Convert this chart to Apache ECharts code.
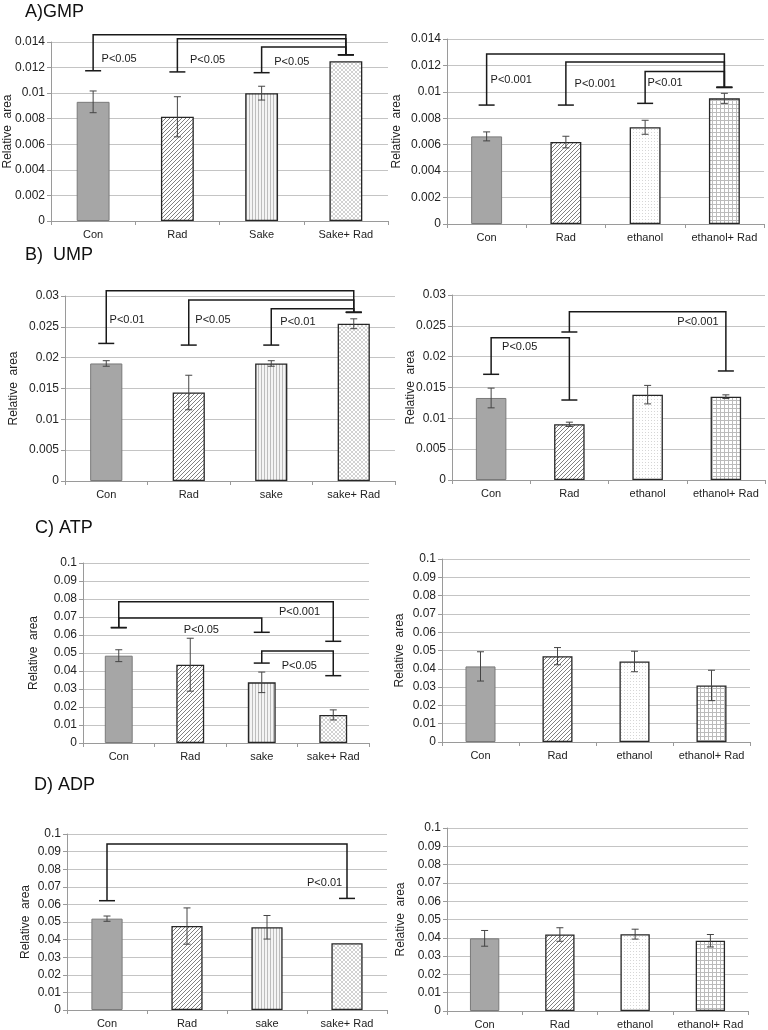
<!DOCTYPE html>
<html>
<head>
<meta charset="utf-8">
<title>Nucleotide relative area</title>
<script src="https://cdn.jsdelivr.net/npm/echarts@6/dist/echarts.min.js"></script>
<style>
  html, body { margin: 0; background: #fff; }
  #main { width: 768px; height: 1030px; }
</style>
</head>
<body>
<div id="main"></div>
<script>
// categories
var catsGmpSake = ['Con', 'Rad', 'Sake', 'Sake+ Rad'];
var catsSake = ['Con', 'Rad', 'sake', 'sake+ Rad'];
var catsEth = ['Con', 'Rad', 'ethanol', 'ethanol+ Rad'];

// values and error bars
var gmpSake = [0.00932, 0.00815, 0.0100, 0.01249];
var gmpSakeErr = [0.00085, 0.00157, 0.00054, 0];
var gmpEth = [0.00663, 0.0062, 0.00732, 0.00951];
var gmpEthErr = [0.00034, 0.00044, 0.00053, 0.00038];

var umpSake = [0.01906, 0.01435, 0.01906, 0.0255];
var umpSakeErr = [0.00045, 0.0028, 0.00045, 0.0008];
var umpEth = [0.0133, 0.00903, 0.01384, 0.01351];
var umpEthErr = [0.0016, 0.00035, 0.0015, 0.0003];

var atpSake = [0.0485, 0.0435, 0.0337, 0.0156];
var atpSakeErr = [0.0033, 0.0147, 0.0057, 0.0028];
var atpEth = [0.0413, 0.0469, 0.044, 0.0309];
var atpEthErr = [0.008, 0.0047, 0.0056, 0.0083];

var adpSake = [0.0519, 0.0477, 0.047, 0.0379];
var adpSakeErr = [0.0015, 0.0103, 0.0067, 0];
var adpEth = [0.0397, 0.0418, 0.042, 0.0384];
var adpEthErr = [0.0043, 0.0037, 0.0027, 0.0034];

// significance brackets: l/r = categories, lf/rf = foot values, top = bar height, p = label at (px, py)
var gmpSakeBr = [
  { l: 0, r: 3, lf: 0.01175, top: 0.01457, rf: 0.0130, p: 'P<0.05', px: 0.1, py: 0.0127 },
  { l: 1, r: 3, lf: 0.01166, top: 0.01426, rf: 0.0130, p: 'P<0.05', px: 1.15, py: 0.01262 },
  { l: 2, r: 3, lf: 0.0116, top: 0.01361, rf: 0.0130, p: 'P<0.05', px: 2.15, py: 0.01244 }
];
var gmpEthBr = [
  { l: 0, r: 3, lf: 0.009, top: 0.01286, rf: 0.01034, p: 'P<0.001', px: 0.05, py: 0.01092 },
  { l: 1, r: 3, lf: 0.009, top: 0.01226, rf: 0.01034, p: 'P<0.001', px: 1.11, py: 0.01062 },
  { l: 2, r: 3, lf: 0.00913, top: 0.01155, rf: 0.01034, p: 'P<0.01', px: 2.03, py: 0.01067 }
];
var umpSakeBr = [
  { l: 0, r: 3, lf: 0.02231, top: 0.03087, rf: 0.02735, p: 'P<0.01', px: 0.04, py: 0.0261 },
  { l: 1, r: 3, lf: 0.02204, top: 0.02935, rf: 0.02735, p: 'P<0.05', px: 1.08, py: 0.0261 },
  { l: 2, r: 3, lf: 0.02204, top: 0.02794, rf: 0.02735, p: 'P<0.01', px: 2.11, py: 0.0258 }
];
var umpEthBr = [
  { l: 0, r: 1, lf: 0.01714, top: 0.02308, rf: 0.01297, p: 'P<0.05', px: 0.14, py: 0.0215 },
  { l: 1, r: 3, lf: 0.024, top: 0.0273, rf: 0.01768, p: 'P<0.001', px: 2.38, py: 0.0257 }
];
var atpSakeBr = [
  { l: 0, r: 3, lf: 0.0641, top: 0.0785, rf: 0.0565, p: 'P<0.001', px: 2.24, py: 0.0726 },
  { l: 0, r: 2, lf: 0.0641, top: 0.0694, rf: 0.0615, p: 'P<0.05', px: 0.91, py: 0.063 },
  { l: 2, r: 3, lf: 0.0444, top: 0.0511, rf: 0.0374, p: 'P<0.05', px: 2.28, py: 0.0426 }
];
var adpSakeBr = [
  { l: 0, r: 3, lf: 0.0621, top: 0.0943, rf: 0.0634, p: 'P<0.01', px: 2.5, py: 0.072 }
];

var FONT = 'Liberation Sans, Arial, sans-serif';

// small canvas tiles for the Excel-like fill patterns
function tile(size, bg, fg, draw) {
  var c = document.createElement('canvas');
  c.width = c.height = size;
  var ctx = c.getContext('2d');
  ctx.fillStyle = bg;
  ctx.fillRect(0, 0, size, size);
  ctx.fillStyle = fg;
  draw(ctx, size);
  return { image: c, repeat: 'repeat' };
}
var patRad = tile(4, '#fff', '#808080', function (ctx, s) {
  for (var i = 0; i < s; i++) ctx.fillRect(i, s - 1 - i, 1, 1);
});
var patSake = tile(3, '#f4f4f4', '#bdbdbd', function (ctx, s) {
  ctx.fillRect(0, 0, 1, s);
});
var patSakeRad = tile(4, '#fff', '#d2d2d2', function (ctx, s) {
  for (var i = 0; i < s; i++) { ctx.fillRect(i, i, 1, 1); ctx.fillRect(i, s - 1 - i, 1, 1); }
});
var patEth = tile(3, '#fff', '#d6d6d6', function (ctx) {
  ctx.fillRect(0, 0, 1, 1);
});
var patEthRad = tile(4, '#fff', '#bbbbbb', function (ctx, s) {
  ctx.fillRect(0, 0, s, 1);
  ctx.fillRect(0, 0, 1, s);
});

var conStyle = { color: '#a6a6a6', borderColor: '#7a7a7a', borderWidth: 1 };
function outlined(p) { return { color: p, borderColor: '#262626', borderWidth: 1.3 }; }
var sakeStyles = [conStyle, outlined(patRad), outlined(patSake), outlined(patSakeRad)];
var ethStyles = [conStyle, outlined(patRad), outlined(patEth), outlined(patEthRad)];

var panels = [
  { grid: [51, 42, 337, 179], cats: catsGmpSake, vals: gmpSake, err: gmpSakeErr, max: 0.014, step: 0.002, br: gmpSakeBr, st: sakeStyles, gap: 37 },
  { grid: [447, 39, 317, 185], cats: catsEth, vals: gmpEth, err: gmpEthErr, max: 0.014, step: 0.002, br: gmpEthBr, st: ethStyles, gap: 44 },
  { grid: [65, 296, 330, 185], cats: catsSake, vals: umpSake, err: umpSakeErr, max: 0.03, step: 0.005, br: umpSakeBr, st: sakeStyles, gap: 45 },
  { grid: [452, 295, 313, 185], cats: catsEth, vals: umpEth, err: umpEthErr, max: 0.03, step: 0.005, br: umpEthBr, st: ethStyles, gap: 35 },
  { grid: [83, 563, 286, 180], cats: catsSake, vals: atpSake, err: atpSakeErr, max: 0.1, step: 0.01, br: atpSakeBr, st: sakeStyles, gap: 43 },
  { grid: [442, 559, 308, 183], cats: catsEth, vals: atpEth, err: atpEthErr, max: 0.1, step: 0.01, br: [], st: ethStyles, gap: 36 },
  { grid: [67, 834, 320, 176], cats: catsSake, vals: adpSake, err: adpSakeErr, max: 0.1, step: 0.01, br: adpSakeBr, st: sakeStyles, gap: 35 },
  { grid: [447, 828, 301, 184], cats: catsEth, vals: adpEth, err: adpEthErr, max: 0.1, step: 0.01, br: [], st: ethStyles, gap: 40 }
];

function errorBar(params, api) {
  var e = api.value(2);
  if (!e) return null;
  var hi = api.coord([api.value(0), api.value(1) + e]);
  var lo = api.coord([api.value(0), api.value(1) - e]);
  var x = hi[0];
  var s = { stroke: '#444', lineWidth: 1 };
  return {
    type: 'group',
    children: [
      { type: 'line', shape: { x1: x, y1: hi[1], x2: x, y2: lo[1] }, style: s },
      { type: 'line', shape: { x1: x - 3.5, y1: hi[1], x2: x + 3.5, y2: hi[1] }, style: s },
      { type: 'line', shape: { x1: x - 3.5, y1: lo[1], x2: x + 3.5, y2: lo[1] }, style: s }
    ]
  };
}

function bracketRenderer(list) {
  return function (params, api) {
    var b = list[api.value(2)];
    var bw = api.size([1, 0])[0];
    var x0 = api.coord([0, 0])[0];
    function xAt(c) { return x0 + c * bw; }
    function yAt(v) { return api.coord([0, v])[1]; }
    var xl = xAt(b.l), xr = xAt(b.r);
    var yt = yAt(b.top), yl = yAt(b.lf), yr = yAt(b.rf);
    var s = { stroke: '#1a1a1a', lineWidth: 1.5, fill: null };
    return {
      type: 'group',
      children: [
        { type: 'polyline', shape: { points: [[xl, yl], [xl, yt], [xr, yt], [xr, yr]] }, style: s },
        { type: 'line', shape: { x1: xl - 8, y1: yl, x2: xl + 8, y2: yl }, style: s },
        { type: 'line', shape: { x1: xr - 8, y1: yr, x2: xr + 8, y2: yr }, style: s },
        { type: 'text', style: { text: b.p, x: xAt(b.px), y: yAt(b.py), fontSize: 11, fontFamily: FONT,
          fill: '#1a1a1a', align: 'left', verticalAlign: 'middle' } }
      ]
    };
  };
}

var axisGray = '#9a9a9a';
var option = {
  animation: false,
  backgroundColor: '#fff',
  title: [
    { text: 'A)GMP', left: 25, top: 3 },
    { text: 'B)  UMP', left: 25, top: 246 },
    { text: 'C) ATP', left: 35, top: 519 },
    { text: 'D) ADP', left: 34, top: 776 }
  ].map(function (t) {
    t.padding = 0;
    t.textStyle = { fontSize: 18, fontWeight: 'normal', color: '#111', fontFamily: FONT };
    return t;
  }),
  grid: [], xAxis: [], yAxis: [], series: []
};

panels.forEach(function (p, k) {
  option.grid.push({ left: p.grid[0], top: p.grid[1], width: p.grid[2], height: p.grid[3] });
  option.xAxis.push({
    type: 'category', gridIndex: k, data: p.cats,
    axisLine: { lineStyle: { color: axisGray } },
    axisTick: { show: true, length: 4, lineStyle: { color: axisGray } },
    axisLabel: { color: '#222', fontSize: 11, margin: 8, fontFamily: FONT, interval: 0, hideOverlap: false }
  });
  option.yAxis.push({
    type: 'value', gridIndex: k, min: 0, max: p.max, interval: p.step,
    name: 'Relative  area', nameLocation: 'middle', nameGap: p.gap, nameMoveOverlap: false,
    nameTextStyle: { fontSize: 12, color: '#222', fontFamily: FONT },
    axisLine: { show: true, lineStyle: { color: axisGray } },
    axisTick: { show: true, length: 4, lineStyle: { color: axisGray } },
    splitLine: { lineStyle: { color: '#c4c4c4' } },
    axisLabel: {
      color: '#222', fontSize: 12, margin: 6, fontFamily: FONT,
      formatter: function (v) { return String(+v.toFixed(4)); }
    }
  });
  option.series.push({
    type: 'bar', xAxisIndex: k, yAxisIndex: k, barWidth: '39%',
    data: p.vals.map(function (v, i) { return { value: v, itemStyle: p.st[i] }; })
  });
  option.series.push({
    type: 'custom', xAxisIndex: k, yAxisIndex: k, z: 5, renderItem: errorBar,
    data: p.vals.map(function (v, i) { return [i, v, p.err[i]]; })
  });
  if (p.br.length) {
    option.series.push({
      type: 'custom', xAxisIndex: k, yAxisIndex: k, z: 6, clip: false,
      renderItem: bracketRenderer(p.br),
      data: p.br.map(function (b, i) { return [b.l, b.top, i]; })
    });
  }
});

var chart = echarts.init(document.getElementById('main'));
chart.setOption(option);
</script>
</body>
</html>
